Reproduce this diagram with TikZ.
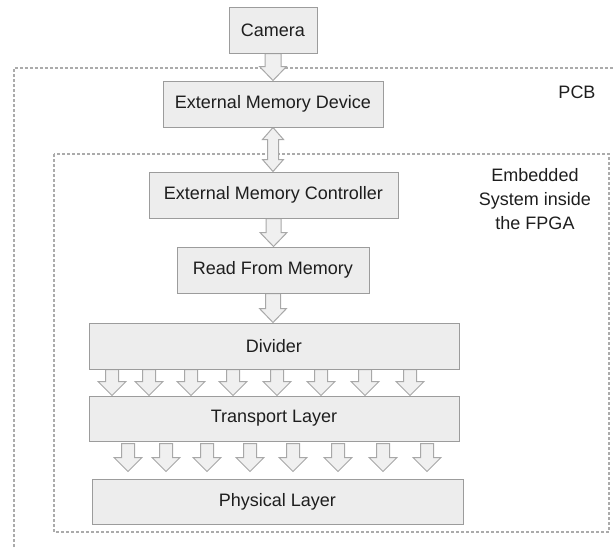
\documentclass[tikz,border=0pt]{standalone}
\usepackage{fontspec}
\setmainfont{Liberation Sans}
\usetikzlibrary{calc,backgrounds}
\definecolor{boxfill}{HTML}{EDEDED}
\definecolor{boxline}{HTML}{9C9C9C}
\definecolor{arrfill}{HTML}{F0F0F0}
\definecolor{arrline}{HTML}{A8A8A8}
\definecolor{frameline}{HTML}{ABABAB}
\definecolor{txt}{HTML}{1E1E1E}
\tikzset{block/.style={draw=boxline,fill=boxfill,rectangle,line width=1pt,inner sep=0pt,text=txt,font=\fontsize{18}{21.6}\selectfont}}
\tikzset{lbl/.style={text=txt,font=\fontsize{18}{24}\selectfont,align=center}}
\tikzset{frame/.style={draw=frameline,line width=1.2pt,dash pattern=on 3pt off 2pt}}
\tikzset{blockarr/.style={draw=arrline,fill=arrfill,line width=1pt,line join=miter}}

\newcommand{\fatarrow}[4]{%
  \filldraw[blockarr] let \p1=#1, \p2=#2 in
    ({\x1-#3pt},\y1) -- ({\x1-#3pt},{\y2+14pt}) -- ({\x1-#4pt},{\y2+14pt}) -- (\x1,\y2)
    -- ({\x1+#4pt},{\y2+14pt}) -- ({\x1+#3pt},{\y2+14pt}) -- ({\x1+#3pt},\y1) -- cycle;}
\newcommand{\dblarrow}[4]{%
  \filldraw[blockarr] let \p1=#1, \p2=#2 in
    (\x1,\y1) -- ({\x1+#4pt},{\y1-12pt}) -- ({\x1+#3pt},{\y1-12pt}) -- ({\x1+#3pt},{\y2+12pt})
    -- ({\x1+#4pt},{\y2+12pt}) -- (\x1,\y2) -- ({\x1-#4pt},{\y2+12pt}) -- ({\x1-#3pt},{\y2+12pt})
    -- ({\x1-#3pt},{\y1-12pt}) -- ({\x1-#4pt},{\y1-12pt}) -- cycle;}

\begin{document}
\begin{tikzpicture}[x=1pt,y=-1pt]
    \useasboundingbox (0,0) rectangle (614,547);

    \node[block, minimum width=88, minimum height=46] (cam) at (273, 30) {Camera};
    \node[block, minimum width=220, minimum height=46] (emd) at (273, 104) {External Memory Device};
    \node[block, minimum width=249, minimum height=46] (emc) at (273.5, 195) {External Memory Controller};
    \node[block, minimum width=192, minimum height=46] (rfm) at (273, 270) {Read From Memory};
    \node[block, minimum width=370, minimum height=46] (div) at (274, 346) {Divider};
    \node[block, minimum width=370, minimum height=45] (tl) at (274, 418.5) {Transport Layer};
    \node[block, minimum width=371, minimum height=45] (phy) at (277.5, 501.5) {Physical Layer};

    \node[lbl] (pcb) at (577, 92) {PCB};
    \node[lbl] (fpga) at (535, 199) {Embedded\\System inside\\the FPGA};

    \begin{pgfonlayer}{background}
    \draw[frame] (14,547) -- (14,68) -- (614,68);
    \draw[frame] (54,154) rectangle (609,532);

    \fatarrow{(cam.south)}{(emd.north)}{8}{13.5}
    \dblarrow{(emd.south)}{(emc.north)}{5.5}{10.5}
    \fatarrow{(emc.south)}{(rfm.north)}{7.5}{13.5}
    \fatarrow{(rfm.south)}{(div.north)}{7.5}{13.5}

    \foreach \x [count=\i] in {112,149,191,233,277,321,365,410} {
        \coordinate (d\i) at (\x,0);
        \fatarrow{(d\i |- div.south)}{(d\i |- tl.north)}{6.5}{14}
    }
    \foreach \x [count=\i] in {128,166,207,250,293,338,383,427} {
        \coordinate (p\i) at (\x,0);
        \fatarrow{($(p\i |- tl.south)+(0,2)$)}{($(p\i |- phy.north)+(0,-7)$)}{6.5}{14}
    }
    \end{pgfonlayer}
\end{tikzpicture}
\end{document}
